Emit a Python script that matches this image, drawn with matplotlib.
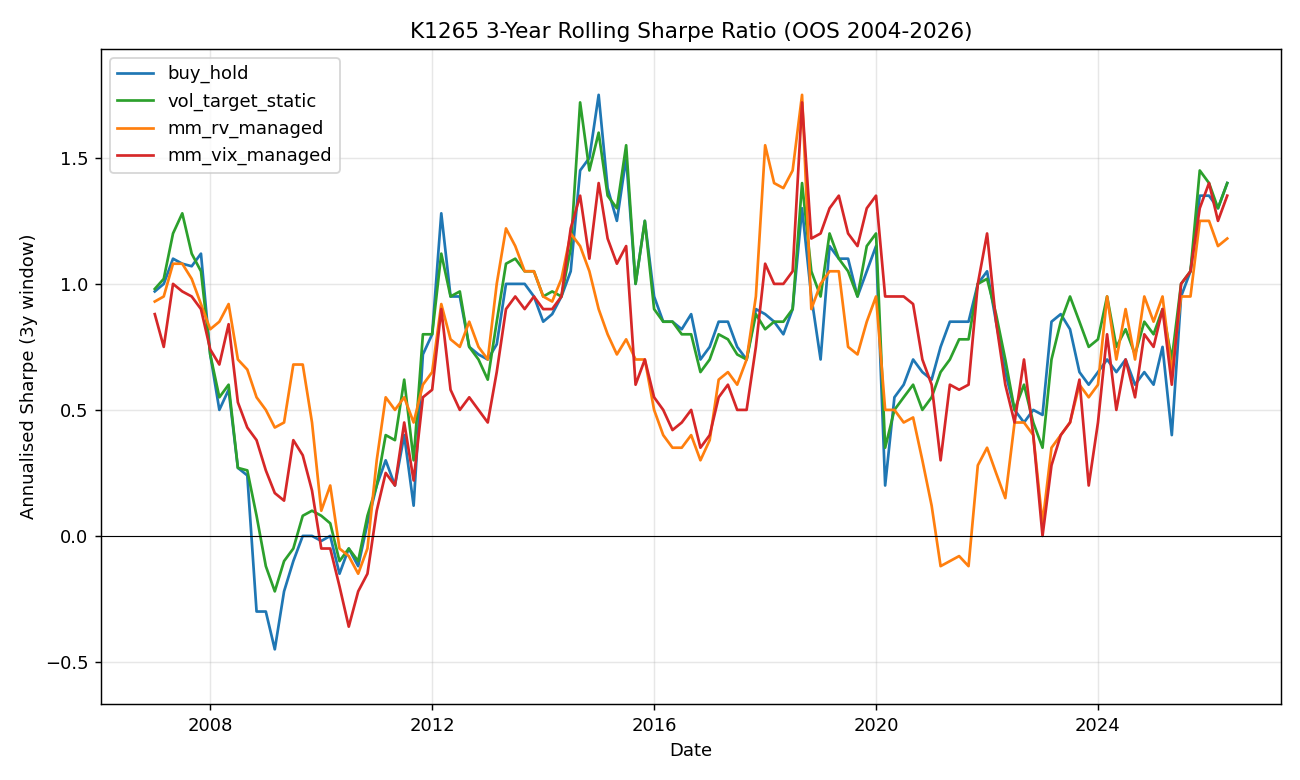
import matplotlib
matplotlib.use("Agg")
import matplotlib.pyplot as plt
import matplotlib.dates as mdates
import pandas as pd
import numpy as np

# bi-monthly observations, Jan 2007 .. May 2026
dates = pd.date_range("2007-01-01", periods=117, freq="2MS")

buy_hold = [
    0.97, 1.00, 1.10, 1.08, 1.07, 1.12, 0.72, 0.50, 0.58, 0.27,
    0.24, -0.30, -0.30, -0.45, -0.22, -0.10, 0.00, 0.00, -0.02, 0.00,
    -0.15, -0.05, -0.12, 0.05, 0.20, 0.30, 0.20, 0.40, 0.12, 0.72,
    0.80, 1.28, 0.95, 0.95, 0.75, 0.72, 0.70, 0.76, 1.00, 1.00,
    1.00, 0.95, 0.85, 0.88, 0.95, 1.05, 1.45, 1.50, 1.75, 1.38,
    1.25, 1.50, 1.00, 1.25, 0.95, 0.85, 0.85, 0.82, 0.88, 0.70,
    0.75, 0.85, 0.85, 0.75, 0.70, 0.90, 0.88, 0.85, 0.80, 0.90,
    1.30, 0.95, 0.70, 1.15, 1.10, 1.10, 0.95, 1.05, 1.15, 0.20,
    0.55, 0.60, 0.70, 0.65, 0.62, 0.75, 0.85, 0.85, 0.85, 1.00,
    1.05, 0.85, 0.65, 0.50, 0.45, 0.50, 0.48, 0.85, 0.88, 0.82,
    0.65, 0.60, 0.65, 0.70, 0.65, 0.70, 0.60, 0.65, 0.60, 0.75,
    0.40, 0.95, 1.05, 1.35, 1.35, 1.30, 1.40,
]

vol_target_static = [
    0.98, 1.02, 1.20, 1.28, 1.12, 1.05, 0.72, 0.55, 0.60, 0.27,
    0.26, 0.08, -0.12, -0.22, -0.10, -0.05, 0.08, 0.10, 0.08, 0.05,
    -0.10, -0.05, -0.10, 0.08, 0.20, 0.40, 0.38, 0.62, 0.30, 0.80,
    0.80, 1.12, 0.95, 0.97, 0.75, 0.70, 0.62, 0.85, 1.08, 1.10,
    1.05, 1.05, 0.95, 0.97, 0.95, 1.14, 1.72, 1.45, 1.60, 1.35,
    1.30, 1.55, 1.00, 1.25, 0.90, 0.85, 0.85, 0.80, 0.80, 0.65,
    0.70, 0.80, 0.78, 0.72, 0.70, 0.88, 0.82, 0.85, 0.85, 0.90,
    1.40, 1.05, 0.95, 1.20, 1.10, 1.05, 0.95, 1.15, 1.20, 0.35,
    0.50, 0.55, 0.60, 0.50, 0.55, 0.65, 0.70, 0.78, 0.78, 1.00,
    1.02, 0.88, 0.70, 0.50, 0.60, 0.45, 0.35, 0.70, 0.85, 0.95,
    0.85, 0.75, 0.78, 0.95, 0.75, 0.82, 0.72, 0.85, 0.80, 0.90,
    0.70, 1.00, 1.05, 1.45, 1.40, 1.30, 1.40,
]

mm_rv_managed = [
    0.93, 0.95, 1.08, 1.08, 1.02, 0.92, 0.82, 0.85, 0.92, 0.70,
    0.66, 0.55, 0.50, 0.43, 0.45, 0.68, 0.68, 0.45, 0.10, 0.20,
    -0.05, -0.08, -0.15, -0.05, 0.30, 0.55, 0.50, 0.55, 0.45, 0.60,
    0.65, 0.92, 0.78, 0.75, 0.85, 0.75, 0.70, 1.00, 1.22, 1.15,
    1.05, 1.05, 0.95, 0.93, 1.02, 1.20, 1.15, 1.05, 0.90, 0.80,
    0.72, 0.78, 0.70, 0.70, 0.50, 0.40, 0.35, 0.35, 0.40, 0.30,
    0.38, 0.62, 0.65, 0.60, 0.70, 0.95, 1.55, 1.40, 1.38, 1.45,
    1.75, 0.90, 1.00, 1.05, 1.05, 0.75, 0.72, 0.85, 0.95, 0.50,
    0.50, 0.45, 0.47, 0.30, 0.12, -0.12, -0.10, -0.08, -0.12, 0.28,
    0.35, 0.25, 0.15, 0.45, 0.45, 0.40, 0.05, 0.35, 0.40, 0.45,
    0.60, 0.55, 0.60, 0.95, 0.70, 0.90, 0.70, 0.95, 0.85, 0.95,
    0.65, 0.95, 0.95, 1.25, 1.25, 1.15, 1.18,
]

mm_vix_managed = [
    0.88, 0.75, 1.00, 0.97, 0.95, 0.90, 0.74, 0.68, 0.84, 0.53,
    0.43, 0.38, 0.26, 0.17, 0.14, 0.38, 0.32, 0.18, -0.05, -0.05,
    -0.20, -0.36, -0.22, -0.15, 0.10, 0.25, 0.20, 0.45, 0.22, 0.55,
    0.58, 0.90, 0.58, 0.50, 0.55, 0.50, 0.45, 0.65, 0.90, 0.95,
    0.90, 0.95, 0.90, 0.90, 0.95, 1.22, 1.35, 1.10, 1.40, 1.18,
    1.08, 1.15, 0.60, 0.70, 0.55, 0.50, 0.42, 0.45, 0.50, 0.35,
    0.40, 0.55, 0.60, 0.50, 0.50, 0.75, 1.08, 1.00, 1.00, 1.05,
    1.72, 1.18, 1.20, 1.30, 1.35, 1.20, 1.15, 1.30, 1.35, 0.95,
    0.95, 0.95, 0.92, 0.70, 0.60, 0.30, 0.60, 0.58, 0.60, 1.00,
    1.20, 0.85, 0.60, 0.45, 0.70, 0.40, 0.00, 0.28, 0.40, 0.45,
    0.62, 0.20, 0.45, 0.80, 0.50, 0.70, 0.55, 0.80, 0.75, 0.90,
    0.60, 1.00, 1.05, 1.30, 1.40, 1.25, 1.35,
]

series = [
    ("buy_hold", buy_hold, "#1f77b4"),
    ("vol_target_static", vol_target_static, "#2ca02c"),
    ("mm_rv_managed", mm_rv_managed, "#ff7f0e"),
    ("mm_vix_managed", mm_vix_managed, "#d62728"),
]

fig = plt.figure(figsize=(10, 6), dpi=130)
ax = fig.add_axes([0.0777, 0.0974, 0.9077, 0.8398])

for name, vals, col in series:
    ax.plot(dates, vals, color=col, lw=1.5, label=name)

ax.axhline(0, color="black", lw=0.6)
ax.set_ylim(-0.667, 1.932)
ax.set_xlim(pd.Timestamp("2006-01-12"), pd.Timestamp("2027-04-20"))
ax.xaxis.set_major_locator(mdates.YearLocator(4))
ax.xaxis.set_major_formatter(mdates.DateFormatter("%Y"))
ax.grid(True, alpha=0.3)
ax.set_title("K1265 3-Year Rolling Sharpe Ratio (OOS 2004-2026)")
ax.set_xlabel("Date")
ax.set_ylabel("Annualised Sharpe (3y window)")
ax.legend(loc="upper left")

fig.savefig("out.png", dpi=130)
